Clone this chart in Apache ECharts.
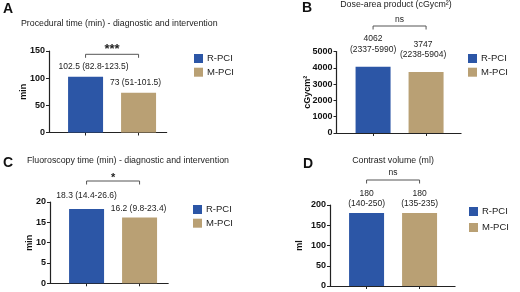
<!DOCTYPE html>
<html>
<head>
<meta charset="utf-8">
<script src="https://cdn.jsdelivr.net/npm/echarts@6/dist/echarts.min.js"></script>
<style>
  html, body { margin: 0; padding: 0; background: #fff; }
  #chart { width: 520px; height: 292px; }
</style>
</head>
<body>
<div id="chart"></div>
<script>
// data: median (IQR) per group
const groups = ['R-PCI', 'M-PCI'];
const panelLetters = ['A', 'B', 'C', 'D'];
const panelTitles = [
  'Procedural time (min) - diagnostic and intervention',
  'Dose-area product (cGycm²)',
  'Fluoroscopy time (min) - diagnostic and intervention',
  'Contrast volume (ml)'
];
const yNames = ['min', 'cGycm²', 'min', 'ml'];
const yMax = [150, 5000, 20, 200];
const yStep = [50, 1000, 5, 50];

const procMedian = [102.5, 73];
const procIqr = ['82.8-123.5', '51-101.5'];
const doseMedian = [4062, 3747];
const doseIqr = ['2337-5990', '2238-5904'];
const fluoroMedian = [18.3, 16.2];
const fluoroIqr = ['14.4-26.6', '9.8-23.4'];
const contrastMedian = [180, 180];
const contrastIqr = ['140-250', '135-235'];
const significance = ['***', 'ns', '*', 'ns'];

const medians = [procMedian, doseMedian, fluoroMedian, contrastMedian];
const iqrs = [procIqr, doseIqr, fluoroIqr, contrastIqr];

const colors = ['#2c56a6', '#b9a074'];
const font = "'Liberation Sans', Arial, sans-serif";
const ink = '#222';

// placement of each panel (pixels)
const layout = [
  { left: 49, top: 51, height: 81.5, xMax: 1.53, nameGap: 20.5,
    title: { left: 21, top: 19 }, letter: { left: 3, top: 2 },
    legend: { left: 194, top: 53.5, gap: 3.7 },
    twoLine: false, labelDist: [5, 5], labelDx: [8, -3],
    bracketY: 54.3, sigY: 49.5, sigFont: 'bold 13px' },
  { left: 336.5, top: 51.5, height: 81.5, xMax: 1.66, nameGap: 24,
    title: { left: 396, top: 0.5, center: true }, letter: { left: 302, top: 1 },
    legend: { left: 468, top: 53.5, gap: 3.7 },
    twoLine: true, labelDist: [12, 12], labelDx: [0, -3],
    bracketY: 26, sigY: 19.3, sigFont: '8.5px' },
  { left: 50, top: 202, height: 81.3, xMax: 1.54, nameGap: 16,
    title: { left: 27, top: 156 }, letter: { left: 3, top: 156 },
    legend: { left: 193, top: 204.5, gap: 3.7 },
    twoLine: false, labelDist: [8, 3.5], labelDx: [0, -1],
    bracketY: 181, sigY: 177.5, sigFont: 'bold 11px' },
  { left: 330, top: 205, height: 81, xMax: 1.67, nameGap: 26,
    title: { left: 393, top: 156, center: true }, letter: { left: 303, top: 157 },
    legend: { left: 469, top: 206.5, gap: 6 },
    twoLine: true, labelDist: [4, 4], labelDx: [0, 0],
    bracketY: 180, sigY: 172.5, sigFont: '8.5px' }
];
const unit = 53;
const xMin = -0.69;

const grid = [], xAxis = [], yAxis = [], series = [], title = [], legend = [];

layout.forEach((L, p) => {
  grid.push({ left: L.left, top: L.top, height: L.height, width: (L.xMax - xMin) * unit });

  xAxis.push({
    type: 'value', gridIndex: p, min: xMin, max: L.xMax,
    axisLine: { show: true, onZero: false, lineStyle: { color: ink, width: 1.2 } },
    axisTick: { show: true, length: 3, customValues: [0, 1], lineStyle: { color: ink } },
    axisLabel: { show: false },
    splitLine: { show: false }
  });

  yAxis.push({
    type: 'value', gridIndex: p, min: 0, max: yMax[p], interval: yStep[p],
    name: yNames[p], nameLocation: 'middle', nameGap: L.nameGap, nameMoveOverlap: false,
    nameTextStyle: { fontFamily: font, fontWeight: 'bold', fontSize: 9, color: '#111' },
    axisLine: { show: true, onZero: false, lineStyle: { color: ink, width: 1.2 } },
    axisTick: { show: true, length: 3, lineStyle: { color: ink } },
    axisLabel: {
      fontFamily: font, fontWeight: 'bold', fontSize: 9, color: '#111', margin: 4,
      formatter: (v) => String(v)
    },
    splitLine: { show: false }
  });

  groups.forEach((g, i) => {
    series.push({
      type: 'bar', name: g, xAxisIndex: p, yAxisIndex: p,
      barWidth: 35, barGap: '-100%',
      itemStyle: { color: colors[i] },
      data: [[i, medians[p][i]]],
      label: {
        show: true, position: 'top', distance: L.labelDist[i], offset: [L.labelDx[i], 0],
        fontFamily: font, fontSize: 8.5, color: ink, lineHeight: 10.5,
        formatter: () => L.twoLine
          ? medians[p][i] + '\n(' + iqrs[p][i] + ')'
          : medians[p][i] + ' (' + iqrs[p][i] + ')'
      }
    });
  });

  title.push({
    text: panelTitles[p], left: L.title.left, top: L.title.top,
    textAlign: L.title.center ? 'center' : 'left', padding: 0,
    textStyle: { fontFamily: font, fontSize: 8.8, fontWeight: 'normal', color: ink }
  });
  title.push({
    text: panelLetters[p], left: L.letter.left, top: L.letter.top, padding: 0,
    textStyle: { fontFamily: font, fontSize: 14, fontWeight: 'bold', color: '#111' }
  });

  legend.push({
    data: groups, orient: 'vertical', left: L.legend.left, top: L.legend.top,
    itemWidth: 9, itemHeight: 9, itemGap: L.legend.gap, padding: 0,
    icon: 'rect',
    textStyle: { fontFamily: font, fontSize: 9.5, color: ink, padding: [0, 0, 0, -1] }
  });
});

const myChart = echarts.init(document.getElementById('chart'), null, { renderer: 'canvas' });
myChart.setOption({
  animation: false,
  color: colors,
  title, legend, grid, xAxis, yAxis, series
});

// significance brackets above the bar pairs
const graphic = [];
layout.forEach((L, p) => {
  const x0 = myChart.convertToPixel({ xAxisIndex: p }, 0);
  const x1 = myChart.convertToPixel({ xAxisIndex: p }, 1);
  const y = L.bracketY;
  graphic.push({
    type: 'polyline', silent: true,
    shape: { points: [[x0, y + 3.5], [x0, y], [x1, y], [x1, y + 3.5]] },
    style: { stroke: '#555', lineWidth: 1, fill: null }
  });
  graphic.push({
    type: 'text', silent: true,
    style: {
      text: significance[p], x: (x0 + x1) / 2, y: L.sigY,
      textAlign: 'center', textVerticalAlign: 'middle',
      font: L.sigFont + ' ' + font, fill: ink
    }
  });
});
myChart.setOption({ graphic });

window.addEventListener('resize', () => { myChart.resize(); });
</script>
</body>
</html>
